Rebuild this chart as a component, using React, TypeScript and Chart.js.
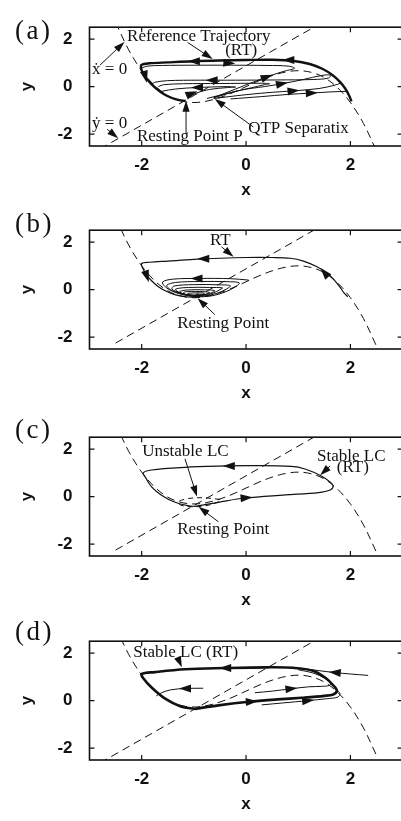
import { useEffect, useRef } from "react";
import { Chart, registerables } from "chart.js";

Chart.register(...registerables);

type Pt = [number, number];

// ---- axes ----
const X_TICKS = [-2, 0, 2];
const Y_TICKS = [-2, 0, 2];
const X_RANGE: Pt = [-3, 3];
const Y_RANGE: Pt = [-2.5, 2.5];

// ---- x-nullcline (cubic), sampled at CUBIC_X for each panel ----
const CUBIC_X = [-2.5, -2.25, -2, -1.75, -1.5, -1.25, -1, -0.75, -0.5, -0.25, 0, 0.25, 0.5, 0.75, 1, 1.25, 1.5, 1.75, 2, 2.25, 2.5];
const CUBIC_Y_A = [2.71, 1.55, 0.67, 0.04, -0.38, -0.6, -0.67, -0.61, -0.46, -0.25, 0, 0.25, 0.46, 0.61, 0.67, 0.6, 0.38, -0.04, -0.67, -1.55, -2.71];
const CUBIC_Y_B = [3.04, 1.88, 1.0, 0.37, -0.05, -0.27, -0.34, -0.28, -0.13, 0.08, 0.33, 0.58, 0.79, 0.94, 1.0, 0.93, 0.71, 0.29, -0.34, -1.22, -2.38];
const CUBIC_Y_C = [3.07, 1.91, 1.03, 0.4, -0.02, -0.24, -0.31, -0.25, -0.1, 0.11, 0.36, 0.61, 0.82, 0.97, 1.03, 0.96, 0.74, 0.32, -0.31, -1.19, -2.35];
const CUBIC_Y_D = [3.11, 1.95, 1.07, 0.44, 0.02, -0.2, -0.27, -0.21, -0.06, 0.15, 0.4, 0.65, 0.86, 1.01, 1.07, 1.0, 0.78, 0.36, -0.27, -1.15, -2.31];

// ---- y-nullcline (straight line) ----
const LINE_NULL_LONG: Pt[] = [[-2.8, -2.625], [1.4, 2.625]];
const LINE_NULL_SHORT: Pt[] = [[-2.5, -2.25], [1.4, 2.625]];

// ---- panel (a): quasi-threshold responses ----
const A_REFERENCE: Pt[] = [[2.02, -0.62], [1.97, -0.35], [1.9, -0.08], [1.8, 0.2], [1.66, 0.48], [1.47, 0.74], [1.22, 0.95], [0.92, 1.08], [0.5, 1.13], [0, 1.12], [-0.5, 1.1], [-1.0, 1.07], [-1.5, 1.02], [-1.85, 0.98], [-2.0, 0.92], [-2.01, 0.75], [-1.95, 0.47], [-1.84, 0.17], [-1.71, -0.1], [-1.57, -0.32], [-1.42, -0.48], [-1.28, -0.57], [-1.17, -0.6]];
const A_TRAJ_1: Pt[] = [[-0.62, -0.47], [-0.2, -0.1], [0.15, 0.2], [0.45, 0.45], [0.75, 0.66], [0.93, 0.77], [0.82, 0.86], [0.4, 0.89], [-0.3, 0.9], [-1.0, 0.9], [-1.6, 0.89], [-1.9, 0.86], [-2.0, 0.78]];
const A_TRAJ_2: Pt[] = [[-0.62, -0.47], [-0.1, -0.15], [0.35, 0.0], [0.69, 0.12], [1.1, 0.3], [1.45, 0.47], [1.62, 0.48], [1.58, 0.36], [1.3, 0.3], [0.6, 0.28], [-0.2, 0.27], [-0.9, 0.27], [-1.5, 0.25], [-1.75, 0.18], [-1.8, 0.1]];
const A_TRAJ_3: Pt[] = [[-0.62, -0.5], [0.0, -0.34], [0.5, -0.24], [0.91, -0.18], [1.4, -0.08], [1.7, 0.06], [1.82, 0.15]];
const A_TRAJ_4: Pt[] = [[-0.3, -0.52], [0.3, -0.42], [0.8, -0.33], [1.26, -0.27], [1.65, -0.22], [1.92, -0.2]];
const A_TRAJ_5: Pt[] = [[-1.1, -0.45], [-0.95, -0.27], [-0.7, -0.12], [-0.35, -0.04], [-0.2, -0.02], [-0.35, 0.0], [-0.94, -0.04], [-1.35, -0.1], [-1.62, -0.2]];
const A_TRAJ_6: Pt[] = [[-0.75, -0.5], [-0.3, -0.25], [0.1, -0.05], [0.35, 0.08], [0.45, 0.12], [0.3, 0.14], [-0.5, 0.13], [-1.2, 0.12], [-1.58, 0.08], [-1.68, 0.0]];

// ---- panel (b): damped return to rest ----
const B_REFERENCE: Pt[] = [[1.95, -0.3], [1.88, -0.15], [1.8, 0.1], [1.7, 0.38], [1.55, 0.7], [1.35, 0.97], [1.1, 1.2], [0.85, 1.32], [0.5, 1.35], [0, 1.35], [-0.5, 1.32], [-1.0, 1.27], [-1.5, 1.2], [-1.85, 1.15], [-2.0, 1.1], [-1.98, 0.9], [-1.9, 0.6], [-1.8, 0.35], [-1.68, 0.12], [-1.52, -0.08], [-1.35, -0.22], [-1.15, -0.3], [-0.98, -0.32]];
const B_SPIRAL: Pt[] = [
  [0.05, 0.4], [-0.3, 0.46], [-0.9, 0.47], [-1.4, 0.44], [-1.6, 0.32], [-1.55, 0.12], [-1.4, -0.08], [-1.2, -0.22], [-0.95, -0.3], [-0.65, -0.26], [-0.4, -0.1], [-0.2, 0.12], [-0.13, 0.28],
  [-0.3, 0.33], [-0.9, 0.34], [-1.35, 0.3], [-1.52, 0.18], [-1.45, 0.0], [-1.28, -0.15], [-1.05, -0.27], [-0.8, -0.27], [-0.55, -0.15], [-0.38, 0.02], [-0.3, 0.16],
  [-0.5, 0.2], [-1.0, 0.21], [-1.38, 0.15], [-1.42, 0.02], [-1.28, -0.12], [-1.05, -0.25], [-0.82, -0.25], [-0.62, -0.14], [-0.5, 0.0], [-0.45, 0.07],
  [-0.7, 0.09], [-1.1, 0.09], [-1.35, 0.02], [-1.3, -0.1], [-1.12, -0.22], [-0.9, -0.25], [-0.7, -0.16], [-0.6, -0.05],
  [-0.8, -0.01], [-1.15, -0.02], [-1.28, -0.1], [-1.18, -0.2], [-0.97, -0.25], [-0.78, -0.2], [-0.7, -0.12],
  [-0.9, -0.08], [-1.18, -0.1], [-1.2, -0.18], [-1.02, -0.24], [-0.85, -0.21], [-0.8, -0.15],
  [-1.0, -0.14], [-1.12, -0.17], [-1.05, -0.23], [-0.92, -0.22], [-0.9, -0.18], [-0.97, -0.2],
];

// ---- panel (c): coexisting limit cycles ----
const C_STABLE_LC: Pt[] = [[-0.98, -0.41], [-0.53, -0.24], [-0.02, -0.06], [0.75, 0.07], [1.39, 0.17], [1.61, 0.28], [1.67, 0.44], [1.62, 0.6], [1.45, 0.86], [1.13, 1.16], [0.87, 1.27], [0.11, 1.3], [-0.53, 1.28], [-1.17, 1.23], [-1.81, 1.12], [-1.97, 1.0], [-1.93, 0.82], [-1.81, 0.41], [-1.62, 0.06], [-1.36, -0.24], [-1.1, -0.39], [-0.98, -0.41]];
const C_UNSTABLE_LC: Pt[] = [[-0.5, -0.12], [-0.8, -0.05], [-1.1, -0.08], [-1.3, -0.22], [-1.25, -0.36], [-1.0, -0.43], [-0.72, -0.36], [-0.55, -0.24], [-0.5, -0.12]];

// ---- panel (d): single stable limit cycle ----
const D_STABLE_LC: Pt[] = [[-0.98, -0.35], [-0.53, -0.2], [0.11, -0.04], [0.6, 0.05], [1.07, 0.12], [1.5, 0.2], [1.67, 0.26], [1.74, 0.41], [1.68, 0.62], [1.52, 0.96], [1.28, 1.26], [0.9, 1.38], [0.4, 1.4], [-0.4, 1.37], [-1.17, 1.32], [-1.75, 1.2], [-2.0, 1.12], [-1.97, 0.94], [-1.81, 0.55], [-1.55, 0.08], [-1.25, -0.25], [-0.98, -0.35]];
const D_TRAJ_1: Pt[] = [[2.34, 1.06], [2.0, 1.12], [1.7, 1.18], [1.4, 1.26], [1.1, 1.34], [0.8, 1.38]];
const D_TRAJ_2: Pt[] = [[-0.82, 0.52], [-1.17, 0.51], [-1.45, 0.45], [-1.62, 0.33], [-1.72, 0.2]];
const D_TRAJ_3: Pt[] = [[0.17, 0.33], [0.5, 0.4], [0.87, 0.5], [1.2, 0.58], [1.45, 0.6], [1.6, 0.64], [1.62, 0.75], [1.5, 0.95], [1.3, 1.15], [1.0, 1.3]];
const D_TRAJ_4: Pt[] = [[0.3, -0.18], [0.7, -0.1], [1.19, 0.0], [1.55, 0.08], [1.76, 0.15], [1.8, 0.3], [1.74, 0.45]];

// ---- flow arrows: [x, y, dx, dy] ----
const A_FLOW = [[-1.0, 1.07, -1, 0], [0.81, 1.12, -1, 0], [-0.32, 0.99, 1, -0.15], [-1.93, 0.41, 0.12, -1], [0.4, 0.41, 1, 0.8], [0.69, 0.12, 1, 0.45], [0.91, -0.18, 1, 0.2], [1.26, -0.27, 1, 0.12], [-0.66, 0.27, -1, 0], [-0.94, -0.04, -1, -0.02], [-1.04, -0.29, 1, 0.9]];
const B_FLOW = [[-0.82, 1.3, -1, 0], [1.5, 0.72, -0.4, 1], [-1.9, 0.55, 0.15, -1], [-0.95, 0.47, -1, 0]];
const C_FLOW = [[-0.33, 1.29, -1, 0], [0.01, -0.05, 1, 0.2]];
const D_FLOW = [[-0.4, 1.37, -1, 0], [1.7, 1.18, -1, 0.2], [-1.17, 0.51, -1, 0], [0.87, 0.5, 1, 0.25], [0.11, -0.04, 1, 0.15], [1.19, 0.0, 1, 0.2]];

// ---- annotation text and leader lines ----
type Note = { text: string; at: Pt };
type Leader = { from: Pt; to: Pt };

const A_NOTES: Note[] = [
  { text: "Reference Trajectory", at: [-2.28, 1.94] },
  { text: "(RT)", at: [-0.4, 1.34] },
  { text: "ẋ = 0", at: [-2.95, 0.53] },
  { text: "ẏ = 0", at: [-2.95, -1.73] },
  { text: "Resting Point P", at: [-2.09, -2.29] },
  { text: "QTP Separatix", at: [0.04, -1.96] },
];
const A_LEADERS: Leader[] = [
  { from: [-1.12, 1.86], to: [-0.64, 1.16] },
  { from: [-2.8, 0.9], to: [-2.33, 1.88] },
  { from: [-2.66, -1.8], to: [-2.45, -2.17] },
  { from: [-1.15, -1.95], to: [-1.15, -0.6] },
  { from: [0.14, -1.7], to: [-0.6, -0.52] },
];
const B_NOTES: Note[] = [
  { text: "RT", at: [-0.69, 1.87] },
  { text: "Resting Point", at: [-1.32, -1.6] },
];
const B_LEADERS: Leader[] = [
  { from: [-0.47, 1.8], to: [-0.24, 1.38] },
  { from: [-0.6, -1.05], to: [-0.93, -0.36] },
];
const C_NOTES: Note[] = [
  { text: "Unstable LC", at: [-1.99, 1.69] },
  { text: "Stable LC", at: [1.36, 1.48] },
  { text: "(RT)", at: [1.74, 1.02] },
  { text: "Resting Point", at: [-1.32, -1.59] },
];
const C_LEADERS: Leader[] = [
  { from: [-1.17, 1.59], to: [-0.94, 0.0] },
  { from: [1.61, 1.29], to: [1.42, 0.9] },
  { from: [-0.53, -1.06], to: [-0.91, -0.43] },
];
const D_NOTES: Note[] = [{ text: "Stable LC (RT)", at: [-2.16, 1.83] }];
const D_LEADERS: Leader[] = [{ from: [-1.3, 1.76], to: [-1.23, 1.4] }];

// ---- drawing ----
const W = 420;
const H = 203;
const AREA = { left: 89.5, top: 4, right: 402.6, bottom: 146 };
const SERIF = '"Liberation Serif", "Times New Roman", "DejaVu Serif", serif';
const SANS = '"Liberation Sans", Arial, Helvetica, sans-serif';
const INK = "#111";

type Curve = { pts: Pt[]; width: number; dash?: number[]; tension?: number };
type PanelDef = {
  tag: string;
  tagBaseline: number;
  curves: Curve[];
  flow: number[][];
  notes: Note[];
  leaders: Leader[];
};

const zipCubic = (ys: number[]): Pt[] => CUBIC_X.map((x, i) => [x, ys[i]]);
const NULL_DASH = [8, 5];

const PANELS: PanelDef[] = [
  {
    tag: "(a)",
    tagBaseline: 39,
    curves: [
      { pts: zipCubic(CUBIC_Y_A), width: 1, dash: NULL_DASH },
      { pts: LINE_NULL_LONG, width: 1, dash: NULL_DASH, tension: 0 },
      { pts: A_TRAJ_1, width: 1 },
      { pts: A_TRAJ_2, width: 1 },
      { pts: A_TRAJ_3, width: 1 },
      { pts: A_TRAJ_4, width: 1 },
      { pts: A_TRAJ_5, width: 1 },
      { pts: A_TRAJ_6, width: 1 },
      { pts: A_REFERENCE, width: 2.4 },
    ],
    flow: A_FLOW,
    notes: A_NOTES,
    leaders: A_LEADERS,
  },
  {
    tag: "(b)",
    tagBaseline: 29,
    curves: [
      { pts: zipCubic(CUBIC_Y_B), width: 1, dash: NULL_DASH },
      { pts: LINE_NULL_SHORT, width: 1, dash: NULL_DASH, tension: 0 },
      { pts: B_SPIRAL, width: 1 },
      { pts: B_REFERENCE, width: 1.2 },
    ],
    flow: B_FLOW,
    notes: B_NOTES,
    leaders: B_LEADERS,
  },
  {
    tag: "(c)",
    tagBaseline: 28,
    curves: [
      { pts: zipCubic(CUBIC_Y_C), width: 1, dash: NULL_DASH },
      { pts: LINE_NULL_SHORT, width: 1, dash: NULL_DASH, tension: 0 },
      { pts: C_UNSTABLE_LC, width: 1, dash: [5, 4] },
      { pts: C_STABLE_LC, width: 1.2 },
    ],
    flow: C_FLOW,
    notes: C_NOTES,
    leaders: C_LEADERS,
  },
  {
    tag: "(d)",
    tagBaseline: 26,
    curves: [
      { pts: zipCubic(CUBIC_Y_D), width: 1, dash: NULL_DASH },
      { pts: LINE_NULL_LONG, width: 1, dash: NULL_DASH, tension: 0 },
      { pts: D_TRAJ_1, width: 1 },
      { pts: D_TRAJ_2, width: 1 },
      { pts: D_TRAJ_3, width: 1 },
      { pts: D_TRAJ_4, width: 1 },
      { pts: D_STABLE_LC, width: 2.6 },
    ],
    flow: D_FLOW,
    notes: D_NOTES,
    leaders: D_LEADERS,
  },
];

const PANEL_TOPS = [0, 203, 410, 614];

function head(ctx: CanvasRenderingContext2D, tx: number, ty: number, ang: number, len: number, half: number) {
  const bx = tx - Math.cos(ang) * len;
  const by = ty - Math.sin(ang) * len;
  const nx = -Math.sin(ang) * half;
  const ny = Math.cos(ang) * half;
  ctx.beginPath();
  ctx.moveTo(tx, ty);
  ctx.lineTo(bx + nx, by + ny);
  ctx.lineTo(bx - nx, by - ny);
  ctx.closePath();
  ctx.fill();
}

function decorations(panel: PanelDef) {
  return {
    id: "decorations",
    afterDatasetsDraw(chart: Chart) {
      const { ctx } = chart;
      const xs = chart.scales.x;
      const ys = chart.scales.y;
      const px = (p: Pt) => [xs.getPixelForValue(p[0]), ys.getPixelForValue(p[1])];
      ctx.save();
      ctx.fillStyle = INK;
      ctx.strokeStyle = INK;
      ctx.lineWidth = 1;
      for (const f of panel.flow) {
        const [cx, cy] = px([f[0], f[1]]);
        const [ex, ey] = px([f[0] + f[2] * 0.01, f[1] + f[3] * 0.01]);
        const ang = Math.atan2(ey - cy, ex - cx);
        const len = 12;
        head(ctx, cx + Math.cos(ang) * len / 2, cy + Math.sin(ang) * len / 2, ang, len, 4);
      }
      for (const l of panel.leaders) {
        const [ax, ay] = px(l.from);
        const [bx, by] = px(l.to);
        const ang = Math.atan2(by - ay, bx - ax);
        ctx.beginPath();
        ctx.moveTo(ax, ay);
        ctx.lineTo(bx - Math.cos(ang) * 6, by - Math.sin(ang) * 6);
        ctx.stroke();
        head(ctx, bx, by, ang, 11, 3.6);
      }
      ctx.font = `17px ${SERIF}`;
      ctx.textBaseline = "alphabetic";
      ctx.textAlign = "left";
      for (const n of panel.notes) {
        const [tx, ty] = px(n.at);
        ctx.fillText(n.text, tx, ty);
      }
      ctx.restore();
    },
    afterDraw(chart: Chart) {
      const { ctx, chartArea: a } = chart;
      const xs = chart.scales.x;
      const ys = chart.scales.y;
      ctx.save();
      ctx.strokeStyle = INK;
      ctx.lineWidth = 1.6;
      ctx.strokeRect(a.left, a.top, a.right - a.left, a.bottom - a.top);
      ctx.lineWidth = 1.2;
      ctx.beginPath();
      for (const v of X_TICKS) {
        const p = xs.getPixelForValue(v);
        ctx.moveTo(p, a.bottom);
        ctx.lineTo(p, a.bottom - 5);
        ctx.moveTo(p, a.top);
        ctx.lineTo(p, a.top + 5);
      }
      for (const v of Y_TICKS) {
        const p = ys.getPixelForValue(v);
        ctx.moveTo(a.left, p);
        ctx.lineTo(a.left + 5, p);
        ctx.moveTo(a.right, p);
        ctx.lineTo(a.right - 5, p);
      }
      ctx.stroke();
      ctx.fillStyle = INK;
      ctx.font = `27px ${SERIF}`;
      (ctx as any).letterSpacing = "2.5px";
      ctx.textBaseline = "alphabetic";
      ctx.fillText(panel.tag, 15, panel.tagBaseline);
      ctx.restore();
    },
  };
}

function buildConfig(panel: PanelDef): any {
  const tickFont = { family: SANS, size: 17, weight: "bold" };
  return {
    type: "scatter",
    data: {
      datasets: panel.curves.map((c) => ({
        data: c.pts.map(([x, y]) => ({ x, y })),
        showLine: true,
        borderColor: INK,
        borderWidth: c.width,
        borderDash: c.dash ?? [],
        pointRadius: 0,
        pointHoverRadius: 0,
        tension: c.tension ?? 0.35,
        fill: false,
      })),
    },
    options: {
      responsive: false,
      animation: false,
      events: [],
      devicePixelRatio: 1,
      layout: { padding: { left: 0, top: AREA.top, right: W - AREA.right, bottom: 0 } },
      plugins: { legend: { display: false }, tooltip: { enabled: false } },
      scales: {
        x: {
          type: "linear",
          min: X_RANGE[0],
          max: X_RANGE[1],
          afterBuildTicks: (s: any) => {
            s.ticks = X_TICKS.map((v) => ({ value: v }));
          },
          afterFit: (s: any) => {
            s.height = H - AREA.bottom;
          },
          grid: { display: false, drawTicks: false },
          border: { display: false },
          ticks: { color: INK, font: tickFont, padding: 9, maxRotation: 0, autoSkip: false },
          title: { display: true, text: "x", color: INK, font: tickFont, padding: { top: 0, bottom: 2 } },
        },
        y: {
          type: "linear",
          min: Y_RANGE[0],
          max: Y_RANGE[1],
          afterBuildTicks: (s: any) => {
            s.ticks = Y_TICKS.map((v) => ({ value: v }));
          },
          afterFit: (s: any) => {
            s.width = AREA.left;
          },
          grid: { display: false, drawTicks: false },
          border: { display: false },
          ticks: { color: INK, font: tickFont, padding: 17, autoSkip: false },
          title: { display: true, text: "y", color: INK, font: tickFont, padding: { top: 17, bottom: 0 } },
        },
      },
    },
    plugins: [decorations(panel)],
  };
}

function Panel({ panel, top }: { panel: PanelDef; top: number }) {
  const ref = useRef<HTMLCanvasElement>(null);
  useEffect(() => {
    const chart = new Chart(ref.current as HTMLCanvasElement, buildConfig(panel));
    return () => chart.destroy();
  }, [panel]);
  return (
    <canvas
      ref={ref}
      width={W}
      height={H}
      style={{ position: "absolute", left: 0, top, width: W, height: H }}
    />
  );
}

export default function App() {
  return (
    <div
      style={{
        position: "fixed",
        left: 0,
        top: 0,
        width: 401,
        height: 821,
        overflow: "hidden",
        background: "#fff",
      }}
    >
      {PANELS.map((p, i) => (
        <Panel key={p.tag} panel={p} top={PANEL_TOPS[i]} />
      ))}
    </div>
  );
}
